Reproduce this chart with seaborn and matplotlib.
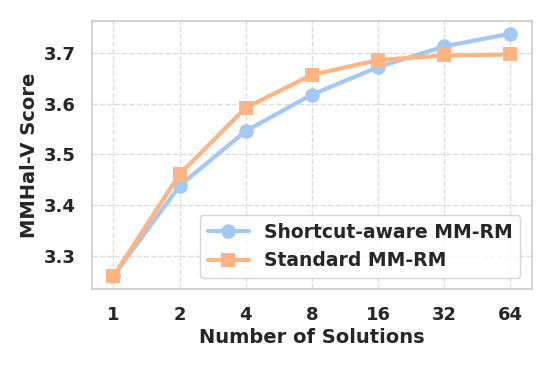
import pandas as pd
import matplotlib.pyplot as plt
import seaborn as sns

solutions = ['1', '2', '4', '8', '16', '32', '64']
shortcut_aware = [3.260, 3.438, 3.546, 3.618, 3.672, 3.713, 3.738]
standard = [3.260, 3.461, 3.592, 3.657, 3.686, 3.695, 3.697]
series_names = ['Shortcut-aware MM-RM', 'Standard MM-RM']

df = pd.DataFrame({
    'solutions': solutions * 2,
    'score': shortcut_aware + standard,
    'model': [series_names[0]] * 7 + [series_names[1]] * 7,
})

sns.set_theme(style='whitegrid')
plt.rcParams['font.family'] = ['DejaVu Sans']
plt.rcParams['font.weight'] = 'bold'

pal = sns.color_palette('pastel')
fig, ax = plt.subplots(figsize=(5.52, 3.68), dpi=100)
sns.lineplot(data=df, x='solutions', y='score', hue='model', style='model',
             markers=['o', 's'], dashes=False, palette=[pal[0], pal[1]],
             linewidth=3, markersize=10.5, markeredgewidth=0, ax=ax)

ax.set_xlim(-0.32, 6.32)
ax.set_ylim(3.235, 3.763)
ax.set_yticks([3.3, 3.4, 3.5, 3.6, 3.7])
ax.grid(True, linestyle='--', color='#dddddd', linewidth=1)
for s in ax.spines.values():
    s.set_color('#cccccc')
    s.set_linewidth(1.2)
ax.tick_params(labelsize=13, pad=6)
for lab in ax.get_xticklabels() + ax.get_yticklabels():
    lab.set_fontweight('bold')
ax.set_xlabel('Number of Solutions', fontsize=14, fontweight='bold', labelpad=3)
ax.set_ylabel('MMHal-V Score', fontsize=14, fontweight='bold', labelpad=3)
leg = ax.legend(loc='lower right', prop={'weight': 'bold', 'size': 13.5},
                handlelength=2.2, borderaxespad=0.6)
leg.set_title(None)

fig.subplots_adjust(left=0.167, right=0.963, top=0.943, bottom=0.215)
fig.savefig('out.png', dpi=100)
plt.close(fig)
